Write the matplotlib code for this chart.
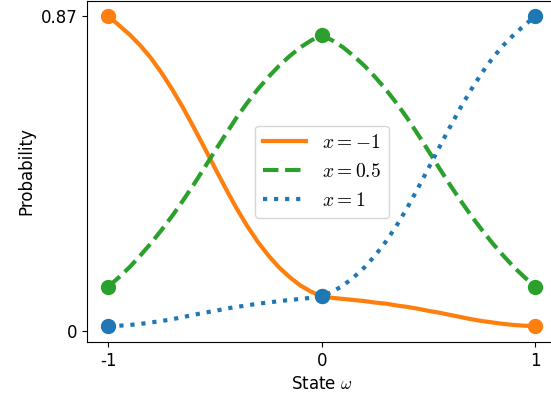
import matplotlib
matplotlib.use("Agg")
import matplotlib.pyplot as plt
import numpy as np

"""Values read off the reference chart (state grid in steps of 0.05)"""
states = [-1.00, -0.95, -0.90, -0.85, -0.80, -0.75, -0.70, -0.65, -0.60, -0.55, -0.50,
          -0.45, -0.40, -0.35, -0.30, -0.25, -0.20, -0.15, -0.10, -0.05, 0.00,
          0.05, 0.10, 0.15, 0.20, 0.25, 0.30, 0.35, 0.40, 0.45, 0.50,
          0.55, 0.60, 0.65, 0.70, 0.75, 0.80, 0.85, 0.90, 0.95, 1.00]

# x = -1
prob_xm1 = [0.869, 0.844, 0.818, 0.788, 0.753, 0.712, 0.666, 0.616, 0.562, 0.506, 0.449,
            0.393, 0.339, 0.290, 0.246, 0.208, 0.175, 0.148, 0.125, 0.108, 0.095,
            0.091, 0.088, 0.085, 0.082, 0.078, 0.075, 0.070, 0.066, 0.061, 0.055,
            0.050, 0.044, 0.038, 0.032, 0.027, 0.023, 0.019, 0.016, 0.014, 0.013]
# x = 0.5
prob_x05 = [0.122, 0.148, 0.176, 0.208, 0.242, 0.279, 0.318, 0.360, 0.404, 0.450, 0.497,
            0.543, 0.588, 0.629, 0.667, 0.701, 0.732, 0.759, 0.783, 0.802, 0.817,
            0.802, 0.783, 0.759, 0.732, 0.701, 0.667, 0.629, 0.588, 0.543, 0.497,
            0.450, 0.404, 0.360, 0.318, 0.279, 0.242, 0.208, 0.176, 0.148, 0.122]
# x = 1
prob_x1 = [0.013, 0.014, 0.016, 0.019, 0.023, 0.027, 0.032, 0.038, 0.044, 0.050, 0.055,
           0.061, 0.066, 0.070, 0.075, 0.078, 0.082, 0.085, 0.088, 0.091, 0.095,
           0.108, 0.125, 0.148, 0.175, 0.208, 0.246, 0.290, 0.339, 0.393, 0.449,
           0.506, 0.562, 0.616, 0.666, 0.712, 0.753, 0.788, 0.818, 0.844, 0.869]

marker_states = [-1, 0, 1]
marker_xm1 = [0.869, 0.095, 0.013]
marker_x05 = [0.122, 0.817, 0.122]
marker_x1 = [0.013, 0.095, 0.869]

xtick_labels = ['-1', '0', '1']
ytick_vals = [0, 0.87]
ytick_labels = ['0', '0.87']

plt.rcParams['mathtext.fontset'] = 'cm'

fig = plt.figure(figsize=(5.51, 4.04), dpi=100)
ax = fig.add_axes([87/551, 62/404, 469.5/551, 341/404])

ax.plot(states, prob_xm1, color='tab:orange', lw=3, ls='-', label=r'$x=-1$')
ax.plot(states, prob_x05, color='tab:green', lw=3, ls='--', label=r'$x=0.5$')
ax.plot(states, prob_x1, color='tab:blue', lw=3, ls=':', label=r'$x=1$')

ax.plot(marker_states, marker_xm1, 'o', color='tab:orange', ms=10)
ax.plot(marker_states, marker_x05, 'o', color='tab:green', ms=10)
ax.plot(marker_states, marker_x1, 'o', color='tab:blue', ms=10)

ax.set_xlim(-1.1, 1.1)
ax.set_ylim(-0.031, 0.911)
ax.set_xticks(marker_states)
ax.set_xticklabels(xtick_labels, fontsize=12)
ax.set_yticks(ytick_vals)
ax.set_yticklabels(ytick_labels, fontsize=12)
ax.set_xlabel(r'State $\omega$', fontsize=12)
ax.set_ylabel('Probability', fontsize=12)

ax.legend(loc='center', fontsize=14, handlelength=2.25)

fig.savefig('out.png', dpi=100)
